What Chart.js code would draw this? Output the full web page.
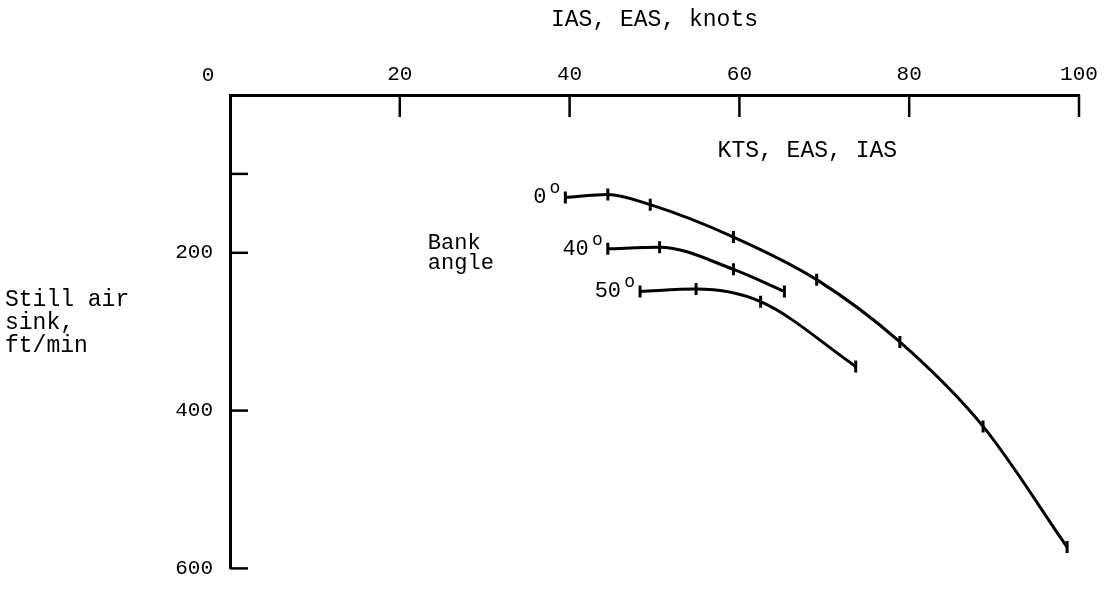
<!DOCTYPE html>
<html>
<head>
<meta charset="utf-8">
<script src="https://cdn.jsdelivr.net/npm/chart.js@4.4.1/dist/chart.umd.min.js"></script>
<style>
  html, body { margin: 0; padding: 0; background: #fff; }
  #wrap { width: 1112px; height: 598px; }
</style>
</head>
<body>
<div id="wrap"><canvas id="sink-chart" width="1112" height="598"></canvas></div>
<script>
// speed (knots) vs still air sink (ft/min), one curve per bank angle
const bank0Speed  = [39.5, 44.5, 49.5, 59.3, 69.1, 78.9, 88.7, 98.6];
const bank0Sink   = [130, 126, 139, 180, 234, 313, 420, 573];
const bank40Speed = [44.5, 50.6, 59.3, 65.3];
const bank40Sink  = [195, 193, 221, 249];
const bank50Speed = [48.3, 54.9, 62.5, 73.7];
const bank50Sink  = [249, 246, 262, 344];
const bankLabels  = ['0', '40', '50'];

const xTicks = [0, 20, 40, 60, 80, 100];
const yTicks = [100, 200, 400, 600];
const yLabelled = [200, 400, 600];

const MONO = 'Liberation Mono';

function points(xs, ys) {
    return xs.map((x, i) => ({ x: x, y: ys[i] }));
}

function curve(xs, ys) {
    return {
        data: points(xs, ys),
        borderColor: '#000',
        borderWidth: 3,
        fill: false,
        cubicInterpolationMode: 'monotone',
        pointStyle: 'line',
        pointRotation: 90,
        pointRadius: 6,
        pointBorderWidth: 3,
        pointBorderColor: '#000',
        pointBackgroundColor: '#000'
    };
}

// ticks pointing into the plot, plus the free text on the chart
const extras = {
    id: 'extras',
    afterDraw(chart) {
        const ctx = chart.ctx;
        const xs = chart.scales.x;
        const ys = chart.scales.y;
        const area = chart.chartArea;
        ctx.save();
        ctx.strokeStyle = '#000';
        ctx.fillStyle = '#000';
        ctx.lineWidth = 2.5;

        xTicks.filter(v => v !== 0).forEach(v => {
            const px = xs.getPixelForValue(v);
            ctx.beginPath();
            ctx.moveTo(px, area.top);
            ctx.lineTo(px, area.top + 22);
            ctx.stroke();
        });
        yTicks.forEach(v => {
            const py = ys.getPixelForValue(v);
            ctx.beginPath();
            ctx.moveTo(area.left, py);
            ctx.lineTo(area.left + 18, py);
            ctx.stroke();
        });

        // the 0 label sits left of the corner
        ctx.font = '21px "' + MONO + '"';
        ctx.textAlign = 'center';
        ctx.textBaseline = 'middle';
        ctx.fillText('0', xs.getPixelForValue(0) - 22, area.top - 20);

        ctx.font = '23px "' + MONO + '"';
        ctx.fillText('KTS, EAS, IAS', xs.getPixelForValue(68), ys.getPixelForValue(71));

        ctx.textAlign = 'left';
        ctx.font = '22px "' + MONO + '"';
        ctx.fillText('Bank', xs.getPixelForValue(23.3), ys.getPixelForValue(188));
        ctx.fillText('angle', xs.getPixelForValue(23.3), ys.getPixelForValue(213));

        ctx.font = '23px "' + MONO + '"';
        ['Still air', 'sink,', 'ft/min'].forEach((t, i) => {
            ctx.fillText(t, 5, 300 + i * 23);
        });

        // bank angle labels at the start of each curve
        bankLabels.forEach((lab, i) => {
            const p = chart.getDatasetMeta(i).data[0];
            ctx.textAlign = 'right';
            ctx.font = '22px "' + MONO + '"';
            ctx.fillText(lab, p.x - 19, p.y);
            ctx.font = '18px "' + MONO + '"';
            ctx.fillText('o', p.x - 5, p.y - 9);
        });
        ctx.restore();
    }
};

const chart = new Chart(document.getElementById('sink-chart'), {
    type: 'line',
    data: {
        datasets: [
            curve(bank0Speed, bank0Sink),
            curve(bank40Speed, bank40Sink),
            curve(bank50Speed, bank50Sink)
        ]
    },
    options: {
        responsive: false,
        animation: false,
        devicePixelRatio: 1,
        layout: { padding: { top: 0, left: 0, right: 33, bottom: 11 } },
        elements: {
            point: {
                // the 40 degree curve has no end tick
                radius: c => (c.datasetIndex === 1 && c.dataIndex === bank40Speed.length - 1) ? 0 : 6
            }
        },
        plugins: { legend: { display: false }, tooltip: { enabled: false } },
        scales: {
            x: {
                type: 'linear',
                position: 'top',
                min: 0,
                max: 100,
                afterBuildTicks: s => { s.ticks = xTicks.map(v => ({ value: v })); },
                afterFit: s => { s.height = 95; },
                grid: { display: false, drawTicks: false },
                border: { display: true, color: '#000', width: 3 },
                ticks: {
                    color: '#000',
                    font: { family: MONO, size: 21 },
                    padding: 8,
                    maxRotation: 0,
                    callback: v => v === 0 ? '' : String(v)
                },
                title: {
                    display: true,
                    text: 'IAS, EAS, knots',
                    color: '#000',
                    font: { family: MONO, size: 23 },
                    padding: { top: 6, bottom: 0 }
                }
            },
            y: {
                type: 'linear',
                reverse: true,
                min: 0,
                max: 600,
                afterBuildTicks: s => { s.ticks = yTicks.map(v => ({ value: v })); },
                afterFit: s => { s.width = 230; },
                grid: { display: false, drawTicks: false },
                border: { display: true, color: '#000', width: 3 },
                ticks: {
                    color: '#000',
                    font: { family: MONO, size: 21 },
                    padding: 17,
                    callback: v => yLabelled.includes(v) ? String(v) : ''
                }
            }
        }
    },
    plugins: [extras]
});
</script>
</body>
</html>
